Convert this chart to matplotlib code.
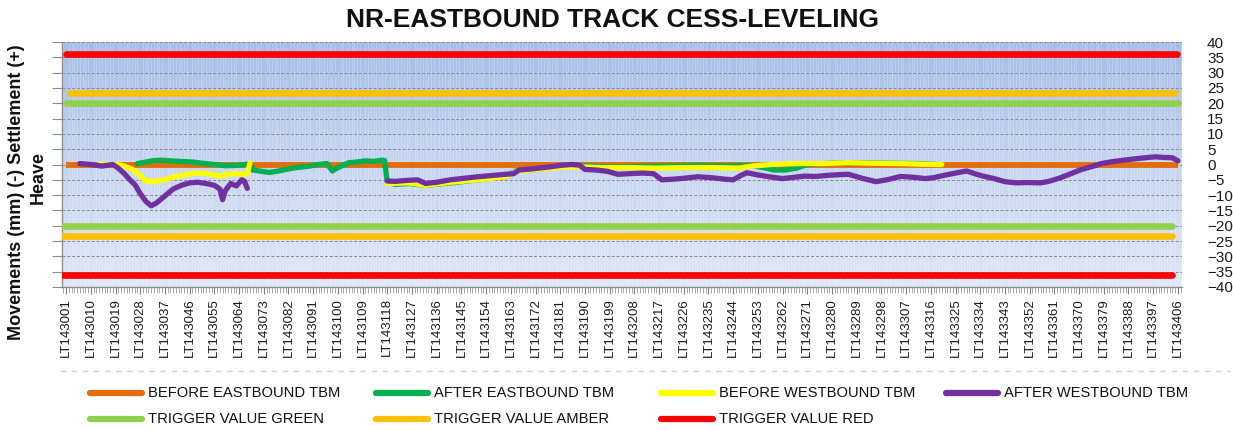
import numpy as np
import matplotlib
matplotlib.use("Agg")
import matplotlib.pyplot as plt
from matplotlib.colors import LinearSegmentedColormap
from matplotlib.lines import Line2D
from matplotlib.ticker import MultipleLocator, FixedLocator
from matplotlib import font_manager

# ---------------- data ----------------
title = "NR-EASTBOUND TRACK CESS-LEVELING"
ylabel_line1 = "Movements (mm) (-) Settlement (+)"
ylabel_line2 = "Heave"

n_points = 406  # LT143001 ... LT143406
tick_positions = list(range(0, 406, 9))
tick_labels = [
    "LT143001", "LT143010", "LT143019", "LT143028", "LT143037", "LT143046",
    "LT143055", "LT143064", "LT143073", "LT143082", "LT143091", "LT143100",
    "LT143109", "LT143118", "LT143127", "LT143136", "LT143145", "LT143154",
    "LT143163", "LT143172", "LT143181", "LT143190", "LT143199", "LT143208",
    "LT143217", "LT143226", "LT143235", "LT143244", "LT143253", "LT143262",
    "LT143271", "LT143280", "LT143289", "LT143298", "LT143307", "LT143316",
    "LT143325", "LT143334", "LT143343", "LT143352", "LT143361", "LT143370",
    "LT143379", "LT143388", "LT143397", "LT143406",
]

before_eb_idx = [0, 405]
before_eb_val = [0.0, 0.0]

after_eb_idx = [26, 29, 32, 35, 38, 42, 46, 50, 54, 58, 62, 65, 67, 68, 71, 74, 77, 80,
                84, 88, 92, 95, 97, 99, 101, 103, 106, 109, 112, 115, 116, 117, 120,
                125, 131, 140, 150, 160, 164, 170, 176, 183, 190, 200, 210, 220, 230,
                240, 250, 255, 258, 262, 266, 270, 280, 290, 300, 310, 318]
after_eb_val = [0.3, 0.8, 1.3, 1.4, 1.2, 1.0, 0.8, 0.4, 0.0, -0.4, -0.3, 0.0, 0.2, -1.8,
                -2.2, -2.6, -2.2, -1.6, -1.0, -0.6, 0.0, 0.3, -2.1, -1.0, -0.2, 0.6, 0.8,
                1.2, 1.0, 1.4, 1.3, -5.8, -6.5, -6.2, -6.8, -6.0, -5.0, -4.0, -2.0, -1.8,
                -1.0, -0.5, -0.5, -0.8, -0.6, -0.5, -0.3, -0.5, -0.3, -1.2, -1.8, -1.8,
                -1.2, 0.0, 0.5, 0.6, 0.4, 0.3, 0.0]

before_wb_idx = [12, 16, 19, 21, 24, 27, 29, 32, 35, 38, 41, 44, 47, 50, 53, 56, 59, 62,
                 65, 66, 67, np.nan,
                 117, 125, 131, 140, 150, 155, 160, 164, 170, 176, 183, 188, 195, 205,
                 215, 225, 235, 245, 250, 257, 262, 267, 275, 285, 295, 304, 312, 319]
before_wb_val = [0.0, 0.0, 0.0, -0.5, -1.5, -3.5, -5.4, -5.5, -5.2, -4.4, -3.8, -3.3,
                 -2.8, -2.9, -3.2, -3.8, -3.2, -3.0, -3.2, -3.0, 0.6, np.nan,
                 -6.2, -6.0, -6.8, -5.8, -5.0, -4.5, -4.0, -2.2, -1.8, -1.2, -0.8, -0.8,
                 -1.0, -1.0, -1.2, -1.0, -1.0, -1.2, -0.5, 0.0, 0.2, 0.3, 0.3, 0.6, 0.4,
                 0.3, 0.1, 0.0]

after_wb_idx = [5, 9, 13, 17, 19, 21, 23, 25, 27, 29, 31, 33, 35, 37, 39, 42, 45, 48,
                51, 54, 56, 57, 58, 60, 62, 64, 65, 66, np.nan,
                117, 120, 124, 128, 131, 135, 140, 145, 150, 155, 160, 163, 165, 170,
                176, 180, 184, 187, 189, 193, 197, 201, 205, 210, 214, 217, 221, 225,
                230, 235, 240, 243, 246, 248, 252, 256, 261, 265, 269, 273, 278, 282,
                285, 290, 295, 299, 304, 309, 313, 316, 320, 324, 328, 331, 334, 338,
                342, 346, 350, 355, 358, 362, 366, 370, 374, 377, 381, 386, 390, 394,
                397, 400, 403, 405]
after_wb_val = [0.3, 0.0, -0.5, 0.0, -1.2, -2.8, -4.8, -6.5, -9.5, -12.0, -13.5, -12.5,
                -11.0, -9.5, -8.0, -6.8, -6.0, -5.8, -6.2, -6.8, -8.0, -11.5, -8.5, -6.2,
                -7.0, -5.0, -5.5, -7.8, np.nan,
                -5.4, -5.5, -5.2, -5.0, -6.2, -5.8, -5.0, -4.5, -4.0, -3.6, -3.2, -3.0,
                -1.8, -1.4, -0.8, -0.3, 0.0, -0.2, -1.6, -1.8, -2.2, -3.2, -3.0, -2.8,
                -3.0, -5.0, -4.8, -4.5, -4.0, -4.3, -4.8, -5.0, -3.5, -2.7, -3.4, -4.0,
                -4.6, -4.2, -3.8, -3.9, -3.5, -3.3, -3.2, -4.5, -5.6, -5.0, -3.9, -4.2,
                -4.6, -4.3, -3.5, -2.8, -2.1, -3.0, -3.8, -4.6, -5.6, -6.0, -5.9, -6.0,
                -5.5, -4.4, -3.0, -1.6, -0.6, 0.3, 0.9, 1.5, 1.9, 2.3, 2.5, 2.3, 2.2, 1.2]

trigger_green_up_idx, trigger_green_up_val = [0, 405], [20.0, 20.0]
trigger_amber_up_idx, trigger_amber_up_val = [1.5, 404], [23.5, 23.5]
trigger_red_up_idx, trigger_red_up_val = [0, 404.5], [36.0, 36.0]
trigger_green_lo_idx, trigger_green_lo_val = [-1, 403], [-20.0, -20.0]
trigger_amber_lo_idx, trigger_amber_lo_val = [-1, 403], [-23.5, -23.5]
trigger_red_lo_idx, trigger_red_lo_val = [-1, 403], [-36.0, -36.0]

legend_labels = ["BEFORE EASTBOUND TBM", "AFTER EASTBOUND TBM", "BEFORE WESTBOUND TBM",
                 "AFTER WESTBOUND TBM", "TRIGGER VALUE GREEN", "TRIGGER VALUE AMBER",
                 "TRIGGER VALUE RED"]

# ---------------- style ----------------
C_ORANGE = "#E46C0A"
C_GREEN = "#00B050"
C_YELLOW = "#FFFF00"
C_PURPLE = "#7030A0"
C_TGREEN = "#92D050"
C_AMBER = "#FFC000"
C_RED = "#FF0000"

names = {f.name for f in font_manager.fontManager.ttflist}
if "Liberation Sans Narrow" in names:
    leg_font, leg_size = "Liberation Sans Narrow", 12.5
else:
    leg_font, leg_size = "Liberation Sans", 10.6

plt.rcParams["font.family"] = ["Liberation Sans", "DejaVu Sans"]

W, H = 1233, 430
fig = plt.figure(figsize=(W / 100, H / 100), dpi=100)
ax = fig.add_axes([62 / W, 1 - 287 / H, (1182 - 62) / W, (287 - 42) / H])

xlim = (-1.5, 406.5)
ylim = (-40, 40)

# gradient background
grad_cmap = LinearSegmentedColormap.from_list("bg", ["#dfe7f6", "#c6d5f0", "#a5bde8"])
ax.imshow(np.linspace(0, 1, 256).reshape(-1, 1), extent=[xlim[0], xlim[1], ylim[0], ylim[1]],
          origin="lower", aspect="auto", cmap=grad_cmap, zorder=0)

# trigger lines
lw_t = 4.8
for xs, ys, c in [(trigger_red_up_idx, trigger_red_up_val, C_RED),
                  (trigger_amber_up_idx, trigger_amber_up_val, C_AMBER),
                  (trigger_green_up_idx, trigger_green_up_val, C_TGREEN),
                  (trigger_green_lo_idx, trigger_green_lo_val, C_TGREEN),
                  (trigger_amber_lo_idx, trigger_amber_lo_val, C_AMBER),
                  (trigger_red_lo_idx, trigger_red_lo_val, C_RED)]:
    ax.plot(xs, ys, color=c, lw=lw_t, solid_capstyle="round", zorder=3)

lw_d = 3.8
ax.plot(before_eb_idx, before_eb_val, color=C_ORANGE, lw=4.2, solid_capstyle="butt", zorder=4)
ax.plot(after_eb_idx, after_eb_val, color=C_GREEN, lw=lw_d, solid_capstyle="round",
        solid_joinstyle="round", zorder=5)
ax.plot(before_wb_idx, before_wb_val, color=C_YELLOW, lw=lw_d, solid_capstyle="round",
        solid_joinstyle="round", zorder=6)
ax.plot(after_wb_idx, after_wb_val, color=C_PURPLE, lw=lw_d, solid_capstyle="round",
        solid_joinstyle="round", zorder=7)

ax.set_xlim(*xlim)
ax.set_ylim(*ylim)

# axes / ticks
ax.xaxis.set_major_locator(FixedLocator(tick_positions))
ax.set_xticklabels(tick_labels, rotation=90, fontsize=9.5, color="#1a1a1a")
ax.xaxis.set_minor_locator(MultipleLocator(1))
ax.tick_params(axis="x", which="major", length=5, color="#808080", pad=3)
ax.tick_params(axis="x", which="minor", length=4, color="#9a9a9a", width=0.6)

ax.yaxis.set_major_locator(MultipleLocator(5))
ax.tick_params(axis="y", which="major", left=True, labelleft=False, right=False,
               labelright=True, length=7, color="#8c8c8c", labelsize=11, pad=11,
               labelcolor="#1a1a1a")

ax.set_axisbelow(True)
ax.grid(axis="y", which="major", color="#8a8a8a", lw=0.7, ls=(0, (3, 2)))
ax.grid(axis="x", which="minor", color="white", lw=0.7, alpha=0.22)

for s in ["top", "right"]:
    ax.spines[s].set_visible(False)
for s in ["left", "bottom"]:
    ax.spines[s].set_color("#8c8c8c")
    ax.spines[s].set_linewidth(1.0)

# title and y label
fig.text(612 / W, 1 - 20 / H, title, ha="center", va="center", fontsize=19,
         fontweight="bold", color="#111111")
fig.text(17 / W, 1 - 192 / H, ylabel_line1, rotation=90, ha="center", va="center",
         fontsize=13, fontweight="bold", color="#111111")
fig.text(38 / W, 1 - 178 / H, ylabel_line2, rotation=90, ha="center", va="center",
         fontsize=13, fontweight="bold", color="#111111")

# separator line above legend
fig.add_artist(Line2D([60 / W, 1230 / W], [1 - 371 / H, 1 - 371 / H],
                      transform=fig.transFigure, color="#d0d0d0", lw=1.0,
                      ls=(0, (4, 4))))

# legend (manual, row-major layout)
leg_colors = [C_ORANGE, C_GREEN, C_YELLOW, C_PURPLE, C_TGREEN, C_AMBER, C_RED]
col_x = [90, 376, 661, 946]
row_y = [393, 419]
for i, (lab, c) in enumerate(zip(legend_labels, leg_colors)):
    r, k = divmod(i, 4)
    x0 = col_x[k]
    y0 = 1 - row_y[r] / H
    fig.add_artist(Line2D([x0 / W, (x0 + 52) / W], [y0, y0], transform=fig.transFigure,
                          color=c, lw=4.5, solid_capstyle="round"))
    fig.text((x0 + 58) / W, y0, lab, ha="left", va="center", family=leg_font,
             fontsize=leg_size, color="#111111")

fig.savefig("out.png", dpi=100)
